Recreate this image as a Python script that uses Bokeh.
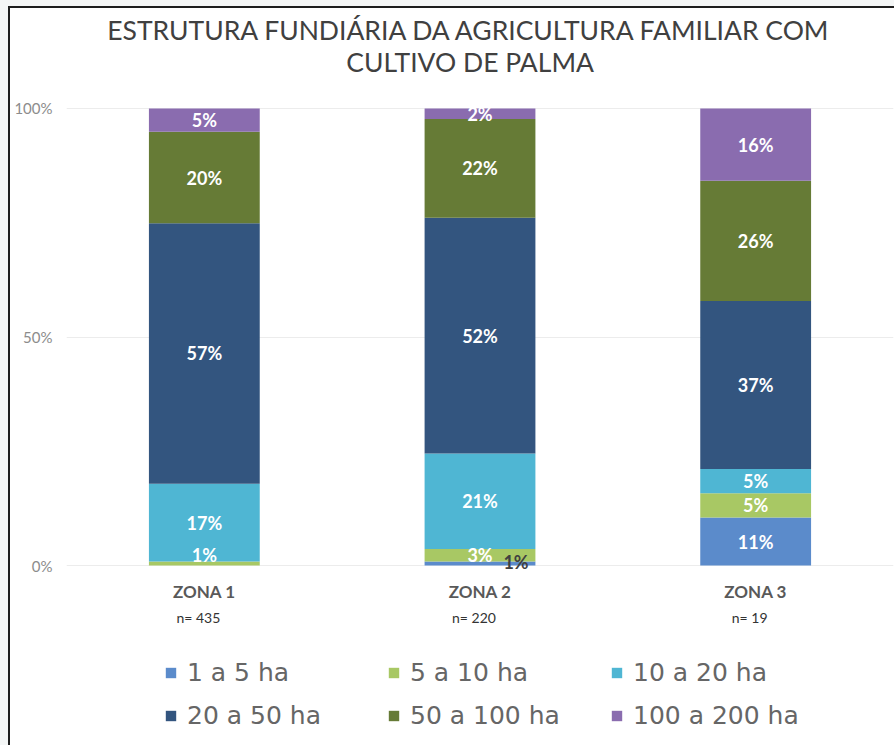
from bokeh.plotting import figure
from bokeh.models import (ColumnDataSource, Range1d, FixedTicker,
                          Legend, LegendItem, LabelSet, Label)
from bokeh.embed import file_html
from bokeh.resources import INLINE
from bokeh.core.properties import value

# ---------------- data ----------------
zones = ["ZONA 1", "ZONA 2", "ZONA 3"]
sample_sizes = ["n= 435", "n= 220", "n= 19"]
classes = ["1 a 5 ha", "5 a 10 ha", "10 a 20 ha", "20 a 50 ha", "50 a 100 ha", "100 a 200 ha"]
share_1_5 = [0.0, 0.9, 10.5]
share_5_10 = [0.9, 2.7, 5.3]
share_10_20 = [17.0, 20.9, 5.3]
share_20_50 = [57.0, 51.6, 36.8]
share_50_100 = [20.0, 21.6, 26.3]
share_100_200 = [5.1, 2.3, 15.8]
y_ticks = [0, 50, 100]
y_tick_labels = ["0%", "50%", "100%"]
title_lines = ["ESTRUTURA FUNDIÁRIA DA AGRICULTURA FAMILIAR COM", "CULTIVO DE PALMA"]

colors = ["#5b8bcb", "#a8c864", "#4fb6d3", "#33557f", "#667b36", "#8a6caf"]
series = [share_1_5, share_5_10, share_10_20, share_20_50, share_50_100, share_100_200]
keys = ["s1", "s2", "s3", "s4", "s5", "s6"]

FONT = "Lato"
LEGEND_FONT = "DejaVu Sans"

xs = list(range(len(zones)))
data = {"x": xs}
for k, s in zip(keys, series):
    data[k] = s
source = ColumnDataSource(data)

# the frame covers the whole canvas height (title and legend sit inside it);
# the 0-100 % scale keeps 4.57 px per percent point
p = figure(width=886, height=739,
           x_range=Range1d(-0.5, 2.5), y_range=Range1d(-39.82, 121.88),
           output_backend="svg", toolbar_location=None,
           min_border_left=56, min_border_right=3,
           min_border_top=0, min_border_bottom=0)
p.styles = {"margin-left": "8px", "margin-top": "6px",
            "border-top": "2px solid #1e1e1e", "border-left": "2px solid #1e1e1e",
            "box-shadow": "0 -8px 0 0 #f4f6f6, -10px 0 0 0 #f4f6f6, -10px -8px 0 0 #f4f6f6"}
p.outline_line_color = None
p.background_fill_color = "white"
p.border_fill_color = "white"

renderers = p.vbar_stack(keys, x="x", width=0.402, color=colors, line_color=None, source=source)

# title (two lines)
for line, yv in zip(title_lines, [117.07, 110.07]):
    p.add_layout(Label(x=0.964, y=yv, text=line, text_align="center", text_baseline="middle",
                       text_font=FONT, text_font_size="26.5px", text_color="#404040"))

# grid
p.xgrid.visible = False
p.ygrid.ticker = FixedTicker(ticks=y_ticks)
p.ygrid.grid_line_color = "#ececec"
p.ygrid.grid_line_width = 1

# y axis
p.yaxis.ticker = FixedTicker(ticks=y_ticks)
p.yaxis.major_label_overrides = {t: l for t, l in zip(y_ticks, y_tick_labels)}
p.yaxis.axis_line_color = None
p.yaxis.major_tick_line_color = None
p.yaxis.minor_tick_line_color = None
p.yaxis.major_tick_out = 0
p.yaxis.major_tick_in = 0
p.yaxis.minor_tick_out = 0
p.yaxis.major_label_text_font = FONT
p.yaxis.major_label_text_font_size = "15px"
p.yaxis.major_label_text_color = "#8c8c8c"
p.yaxis.major_label_standoff = 14

# x axis: zone names, drawn at the 0% line
p.xaxis.fixed_location = 0
p.xaxis.ticker = FixedTicker(ticks=xs)
p.xaxis.major_label_overrides = {i: z for i, z in zip(xs, zones)}
p.xaxis.axis_line_color = None
p.xaxis.major_tick_line_color = None
p.xaxis.minor_tick_line_color = None
p.xaxis.major_label_text_font = FONT
p.xaxis.major_label_text_font_style = "bold"
p.xaxis.major_label_text_font_size = "17px"
p.xaxis.major_label_text_color = "#595959"
p.xaxis.major_label_standoff = 9

# sample sizes under the zone names
n_src = ColumnDataSource(dict(x=xs, y=[0] * len(xs), text=sample_sizes))
p.add_layout(LabelSet(x="x", y="y", text="text", source=n_src, x_offset=-6, y_offset=-52,
                      text_align="center", text_baseline="middle",
                      text_font=value(FONT), text_font_size="14px", text_color="#333333"))

# data labels
lx, ly, lt, lc, ldx, ldy = [], [], [], [], [], []
for i in xs:
    base = 0.0
    for j, s in enumerate(series):
        v = s[i]
        if v > 0:
            lx.append(i)
            ly.append(base + v / 2)
            lt.append(f"{int(v + 0.5)}%")
            dx, dy, c = 0, 0, "white"
            if v < 1.5 and j == 0:
                dx, dy, c = 36, 1, "#404040"
            elif v < 1.5:
                dy = 8
            lc.append(c)
            ldx.append(dx)
            ldy.append(dy)
        base += v
lab_src = ColumnDataSource(dict(x=lx, y=ly, text=lt, color=lc, dx=ldx, dy=ldy))
labels = LabelSet(x="x", y="y", text="text", source=lab_src,
                  x_offset="dx", y_offset="dy",
                  text_color="color", text_align="center", text_baseline="middle",
                  text_font=value(FONT), text_font_style="bold", text_font_size="18px")
p.add_layout(labels)

# legend
items = [LegendItem(label=c, renderers=[r]) for c, r in zip(classes, renderers)]
legend = Legend(items=items, ncols=3, orientation="horizontal", location=(98, 17))
legend.glyph_width = 13
legend.glyph_height = 13
legend.label_standoff = 10
legend.label_width = 186
legend.spacing = 14
legend.padding = 0
legend.margin = 0
legend.border_line_color = None
legend.background_fill_alpha = 0
legend.label_text_font = LEGEND_FONT
legend.label_text_font_size = "25px"
legend.label_text_color = "#666666"
p.add_layout(legend, "center")

open("out.html", "w").write(file_html(p, INLINE))
